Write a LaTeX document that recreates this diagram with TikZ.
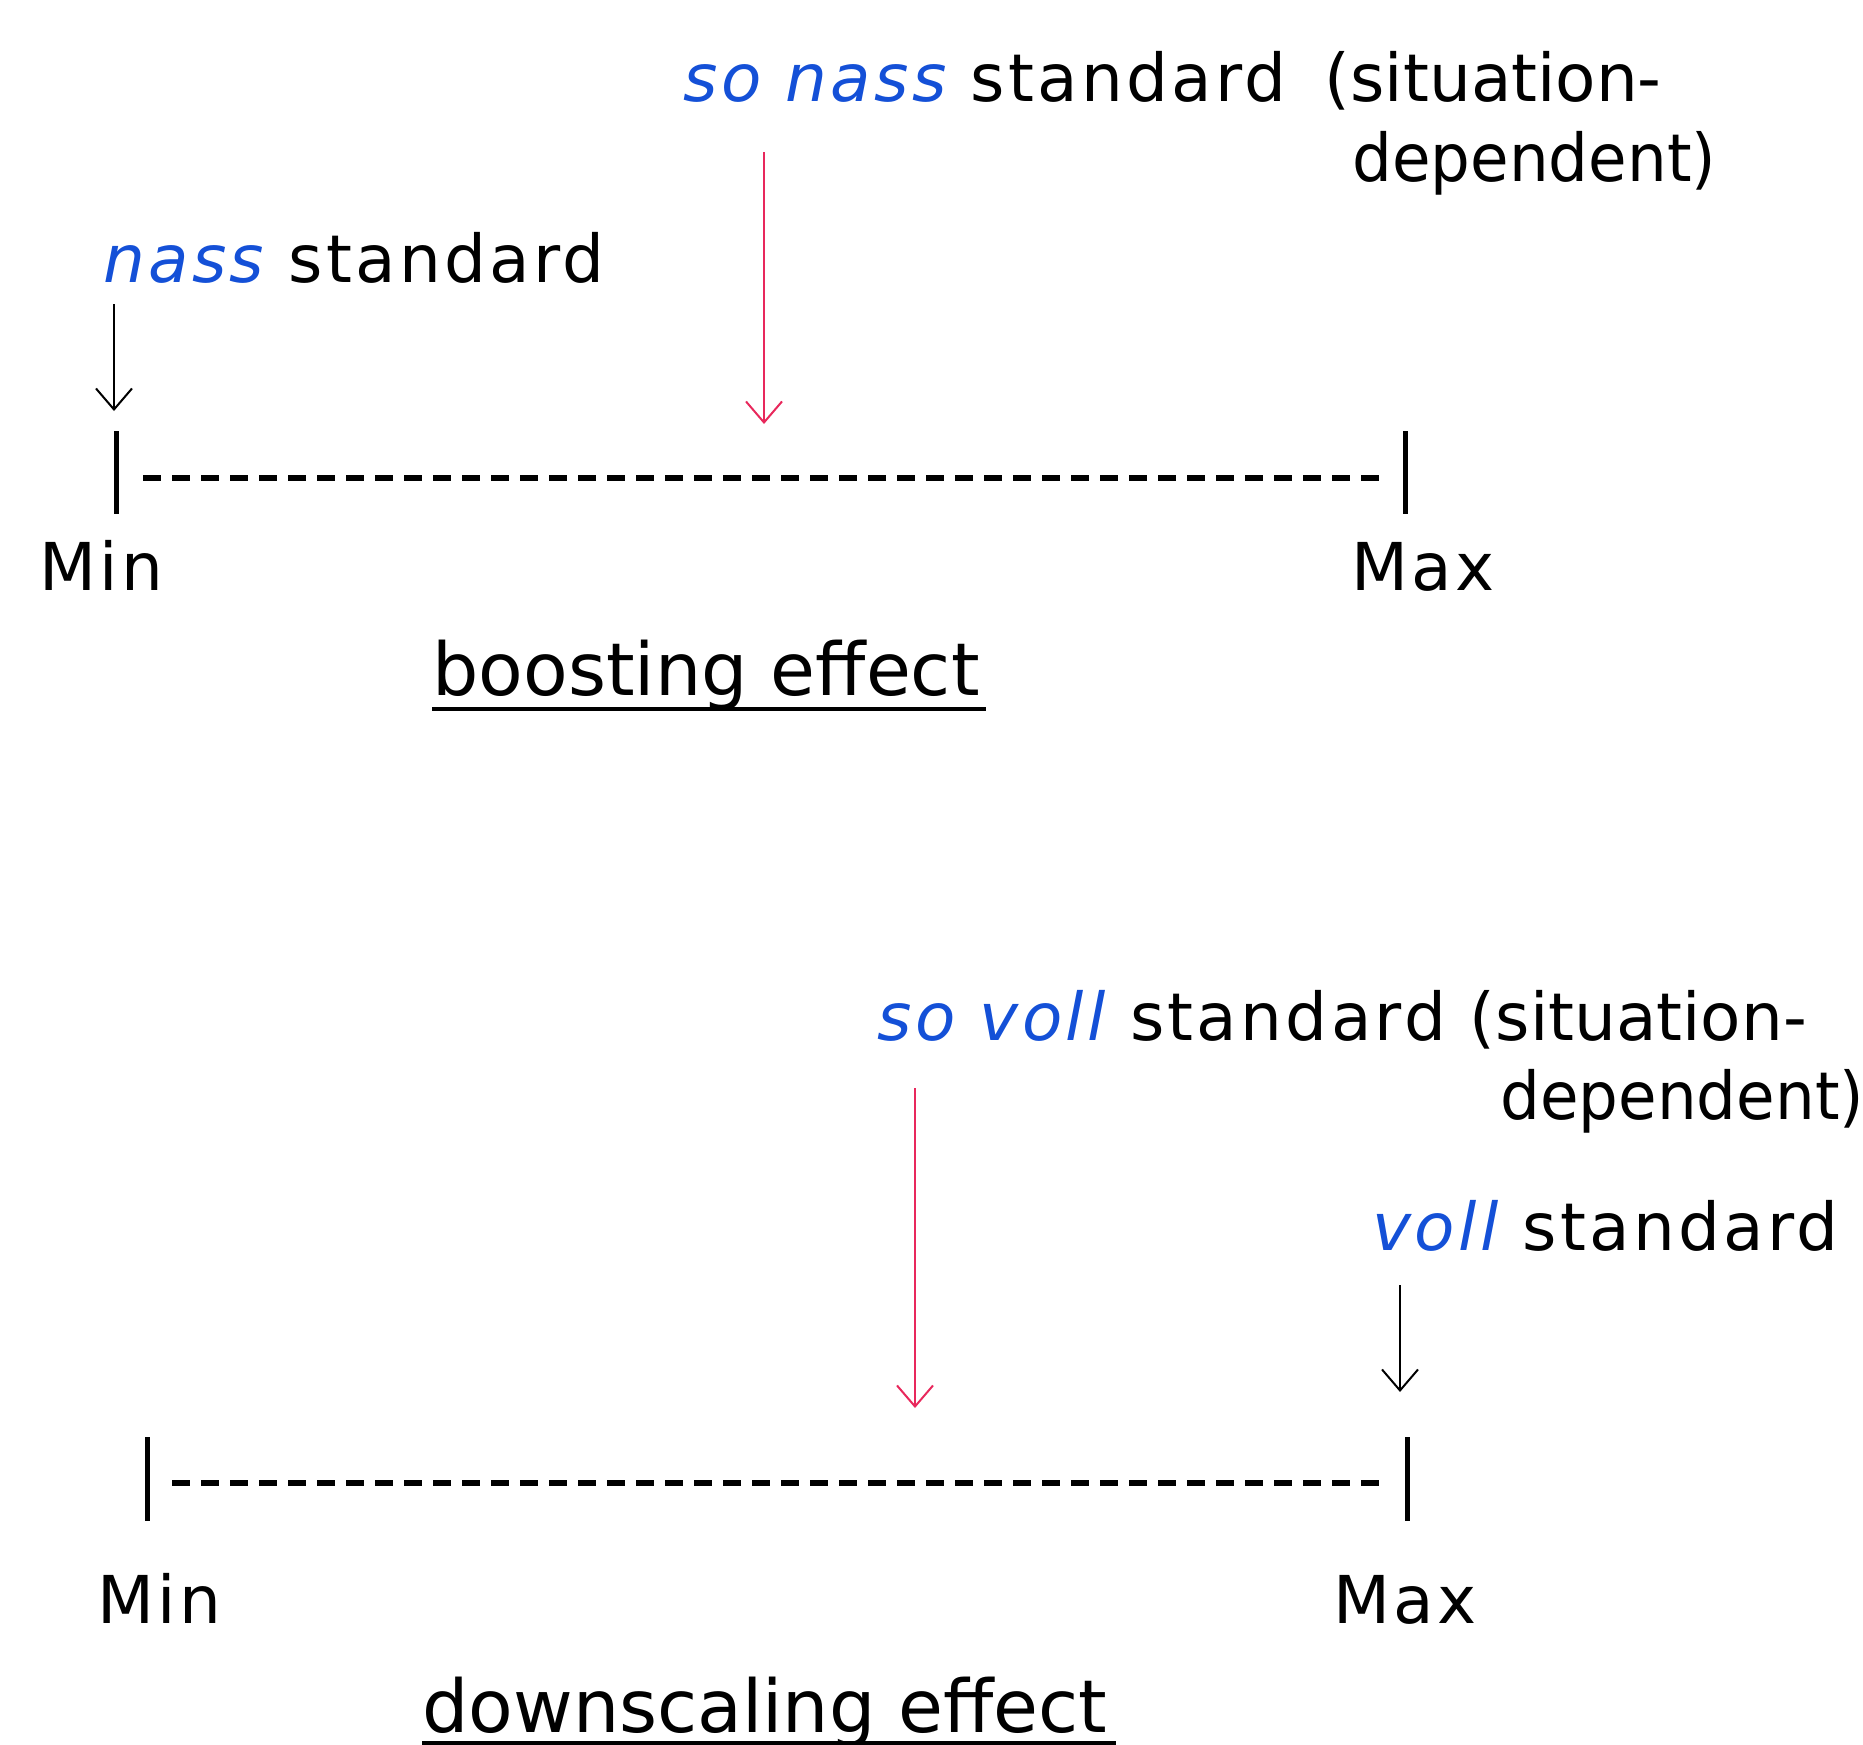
\documentclass[tikz,border=0pt]{standalone}
\usepackage{fontspec}
\setmainfont{DejaVu Sans}
\newfontfamily\spaced[LetterSpace=5]{DejaVu Sans}
\usetikzlibrary{arrows.meta,calc}
\definecolor{kblue}{RGB}{20,80,215}
\definecolor{kred}{RGB}{232,40,92}
\tikzset{
  lbl/.style={inner sep=0pt, anchor=base west, font=\spaced\fontsize{33pt}{40pt}\selectfont},
  deplbl/.style={inner sep=0pt, anchor=base west, font=\fontsize{33pt}{40pt}\selectfont},
  endlbl/.style={inner sep=0pt, anchor=base west, font=\spaced\fontsize{33pt}{40pt}\selectfont},
  ttl/.style={inner sep=0pt, anchor=base west, font=\fontsize{36.5pt}{44pt}\selectfont},
  bar/.style={line width=2.5pt},
  scaleline/.style={line width=2.7pt, dash pattern=on 9pt off 5.5pt},
  ptr/.style={line width=1pt, -{Straight Barb[length=10.5pt,width=18pt,line width=1pt]}},
  redptr/.style={ptr, draw=kred},
  uline/.style={line width=1.8pt}
}
\newcommand{\bl}[1]{\textcolor{kblue}{\itshape #1}}
\begin{document}
\begin{tikzpicture}[x=0.5pt,y=-0.5pt]
\useasboundingbox (0,0) rectangle (1863,1745);
% ---------- top: boosting ----------
\node[lbl] (sonass) at (683,101) {\bl{so nass} standard\hspace{19pt}{\rmfamily(situation-}};
\node[deplbl] (dep1) at (1352,181) {\scalebox{0.95}[1]{dependent)}};
\node[lbl] (nass) at (103,282) {\bl{nass} standard};
\coordinate (nassS) at (114,304);
\coordinate (nassE) at (114,411);
\coordinate (snS) at (764,152);
\coordinate (snE) at (764,424);
\draw[ptr] (nassS) -- (nassE);
\draw[redptr] (snS) -- (snE);
\coordinate (minT1) at (116,431);
\coordinate (minB1) at (116,514);
\coordinate (maxT1) at (1405,431);
\coordinate (maxB1) at (1405,514);
\draw[bar] (minT1) -- (minB1);
\draw[bar] (maxT1) -- (maxB1);
\coordinate (dl1) at (143,478);
\coordinate (dr1) at (1384,478);
\draw[scaleline] (dl1) -- (dr1);
\node[endlbl] (min1) at (39,590) {Min};
\node[endlbl] (max1) at (1351,590) {Max};
\node[ttl] (boost) at (432,695) {boosting effect};
\draw[uline] ($(boost.base west)+(0,14)$) -- ($(boost.base east)+(6,14)$);
% ---------- bottom: downscaling ----------
\node[lbl] (sovoll) at (877,1040) {\bl{so voll} standard\hspace{12pt}{\rmfamily(situation-}};
\node[deplbl] (dep2) at (1500,1119) {\scalebox{0.95}[1]{dependent)}};
\node[lbl] (voll) at (1372,1250) {\bl{voll} standard};
\coordinate (vollS) at (1400,1285);
\coordinate (vollE) at (1400,1392);
\coordinate (svS) at (915,1088);
\coordinate (svE) at (915,1408);
\draw[ptr] (vollS) -- (vollE);
\draw[redptr] (svS) -- (svE);
\coordinate (minT2) at (147,1437);
\coordinate (minB2) at (147,1521);
\coordinate (maxT2) at (1407,1437);
\coordinate (maxB2) at (1407,1521);
\draw[bar] (minT2) -- (minB2);
\draw[bar] (maxT2) -- (maxB2);
\coordinate (dl2) at (172,1483);
\coordinate (dr2) at (1384,1483);
\draw[scaleline] (dl2) -- (dr2);
\node[endlbl] (min2) at (97,1623) {Min};
\node[endlbl] (max2) at (1333,1623) {Max};
\node[ttl] (down) at (422,1732) {downscaling effect};
\draw[uline] ($(down.base west)+(0,11)$) -- ($(down.base east)+(8,11)$);
\end{tikzpicture}
\end{document}
